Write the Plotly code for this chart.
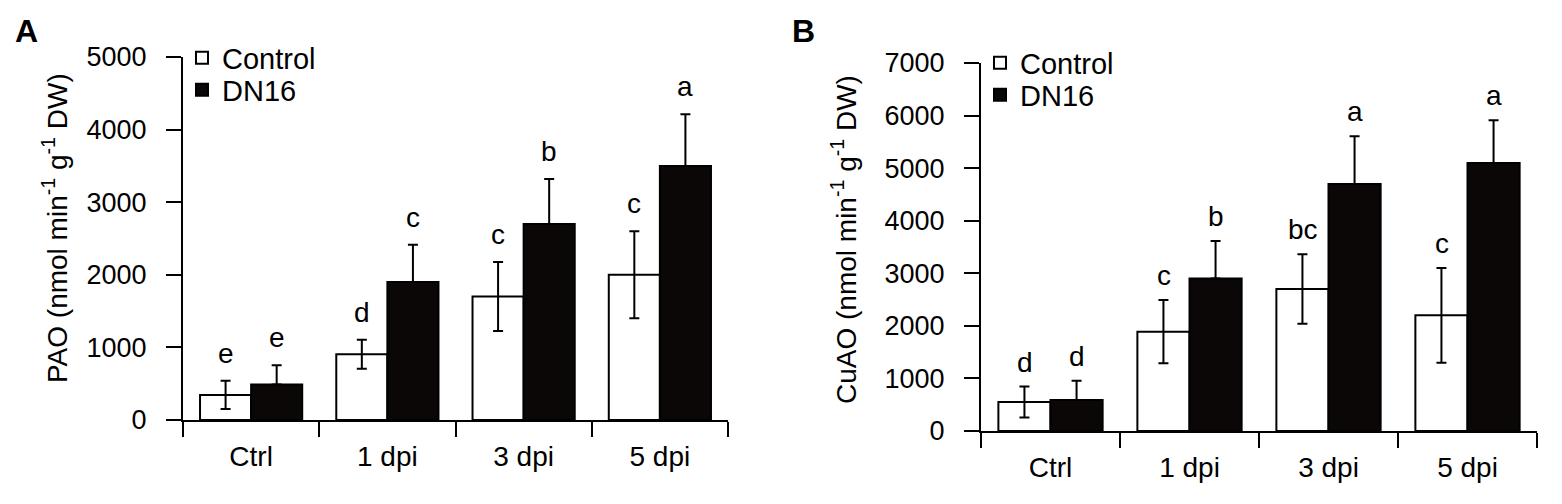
import plotly.graph_objects as go

categories = ["Ctrl", "1 dpi", "3 dpi", "5 dpi"]

# Panel A: PAO
pao_control = [345, 905, 1700, 2000]
pao_control_err = [195, 200, 475, 600]
pao_dn16 = [490, 1900, 2700, 3500]
pao_dn16_err = [265, 515, 620, 710]
pao_control_letters = ["e", "d", "c", "c"]
pao_dn16_letters = ["e", "c", "b", "a"]
pao_ticks = [0, 1000, 2000, 3000, 4000, 5000]

# Panel B: CuAO
cuao_control = [550, 1890, 2700, 2200]
cuao_control_err = [295, 600, 660, 900]
cuao_dn16 = [590, 2900, 4700, 5100]
cuao_dn16_err = [365, 715, 905, 810]
cuao_control_letters = ["d", "c", "bc", "c"]
cuao_dn16_letters = ["d", "b", "a", "a"]
cuao_ticks = [0, 1000, 2000, 3000, 4000, 5000, 6000, 7000]

FONT = "Liberation Sans, Arial, sans-serif"
BLACK = "#000000"
DARK = "#0b0707"
W, H = 1562, 504


def px_x(p):
    return p / W


def px_y(p):
    return (H - p) / H


fig = go.Figure()


def err(vals, one_sided=False):
    d = dict(type="data", array=vals, visible=True, color=BLACK, thickness=2, width=5)
    if one_sided:
        d["symmetric"] = False
        d["arrayminus"] = [0] * len(vals)
    return d


fig.add_trace(go.Bar(x=categories, y=pao_control, name="Control", error_y=err(pao_control_err),
                     marker=dict(color="white", line=dict(color=BLACK, width=2)),
                     xaxis="x", yaxis="y", legend="legend"))
fig.add_trace(go.Bar(x=categories, y=pao_dn16, name="DN16", error_y=err(pao_dn16_err, True),
                     marker=dict(color=DARK, line=dict(color=BLACK, width=2)),
                     xaxis="x", yaxis="y", legend="legend2"))
fig.add_trace(go.Bar(x=categories, y=cuao_control, name="Control", error_y=err(cuao_control_err),
                     marker=dict(color="white", line=dict(color=BLACK, width=2)),
                     xaxis="x2", yaxis="y2", legend="legend3"))
fig.add_trace(go.Bar(x=categories, y=cuao_dn16, name="DN16", error_y=err(cuao_dn16_err, True),
                     marker=dict(color=DARK, line=dict(color=BLACK, width=2)),
                     xaxis="x2", yaxis="y2", legend="legend4"))

annotations = []


def add_letters(xref, yref, vals, errs, letters, shift, yshift):
    for c, v, e, t in zip(categories, vals, errs, letters):
        annotations.append(dict(x=c, y=v + e, xref=xref, yref=yref, text=t, showarrow=False,
                                xshift=shift, yshift=yshift, yanchor="bottom", xanchor="center",
                                font=dict(family=FONT, size=28, color=BLACK)))


add_letters("x", "y", pao_control, pao_control_err, pao_control_letters, -25.5, 10)
add_letters("x", "y", pao_dn16, pao_dn16_err, pao_dn16_letters, 25.5, 10)
add_letters("x2", "y2", cuao_control, cuao_control_err, cuao_control_letters, -26, 7)
add_letters("x2", "y2", cuao_dn16, cuao_dn16_err, cuao_dn16_letters, 26, 7)

# y-axis titles
annotations.append(dict(x=px_x(55), y=px_y(228), xref="paper", yref="paper",
                        text="PAO (nmol min<sup>-1</sup> g<sup>-1</sup> DW)", textangle=-90,
                        showarrow=False, xanchor="center", yanchor="middle",
                        font=dict(family=FONT, size=28, color=BLACK)))
annotations.append(dict(x=px_x(844), y=px_y(239), xref="paper", yref="paper",
                        text="CuAO (nmol min<sup>-1</sup> g<sup>-1</sup> DW)", textangle=-90,
                        showarrow=False, xanchor="center", yanchor="middle",
                        font=dict(family=FONT, size=28, color=BLACK)))
# panel labels
annotations.append(dict(x=px_x(13), y=px_y(11), xref="paper", yref="paper", text="<b>A</b>",
                        showarrow=False, xanchor="left", yanchor="top",
                        font=dict(family=FONT, size=32, color=BLACK)))
annotations.append(dict(x=px_x(790), y=px_y(11), xref="paper", yref="paper", text="<b>B</b>",
                        showarrow=False, xanchor="left", yanchor="top",
                        font=dict(family=FONT, size=32, color=BLACK)))

xaxis_common = dict(type="category", showline=True, linecolor=BLACK, linewidth=2,
                    ticks="outside", tickson="boundaries", ticklen=15, tickwidth=2, tickcolor=BLACK,
                    showgrid=False, zeroline=False, ticklabelstandoff=10, automargin=False,
                    tickfont=dict(family=FONT, size=28, color=BLACK))
yaxis_common = dict(showline=True, linecolor=BLACK, linewidth=2, ticks="outside", ticklen=15,
                    tickwidth=2, tickcolor=BLACK, showgrid=False, zeroline=False, automargin=False,
                    tickfont=dict(family=FONT, size=27, color=BLACK), ticklabelstandoff=14)

legend_common = dict(font=dict(family=FONT, size=29, color=BLACK), bgcolor="rgba(0,0,0,0)",
                     xanchor="left", yanchor="middle", traceorder="normal",
                     itemclick=False, itemdoubleclick=False)

fig.update_layout(
    width=W, height=H,
    margin=dict(l=0, r=0, t=0, b=0, pad=0, autoexpand=False),
    paper_bgcolor="white", plot_bgcolor="white",
    barmode="group", bargap=0.25, bargroupgap=0,
    showlegend=True,
    xaxis=dict(domain=[px_x(183), px_x(728)], anchor="y", **xaxis_common),
    yaxis=dict(domain=[px_y(420), px_y(57)], anchor="x", range=[0, 5000], tickvals=pao_ticks,
               **yaxis_common),
    xaxis2=dict(domain=[px_x(981), px_x(1537)], anchor="y2", **xaxis_common),
    yaxis2=dict(domain=[px_y(431), px_y(63)], anchor="x2", range=[0, 7000], tickvals=cuao_ticks,
                **yaxis_common),
    legend=dict(x=px_x(182), y=px_y(58), **legend_common),
    legend2=dict(x=px_x(182), y=px_y(90), **legend_common),
    legend3=dict(x=px_x(980), y=px_y(63), **legend_common),
    legend4=dict(x=px_x(980), y=px_y(95), **legend_common),
    annotations=annotations,
)

fig.write_html("out.html", config={"displayModeBar": False},
               post_script="document.body.style.margin='0';")
